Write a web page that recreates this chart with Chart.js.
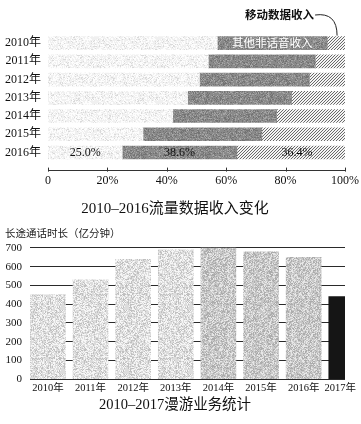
<!DOCTYPE html>
<html><head><meta charset="utf-8">
<script src="https://cdn.jsdelivr.net/npm/chart.js@4/dist/chart.umd.min.js"></script>
<style>
html,body{margin:0;padding:0;background:#fff;width:361px;height:424px;overflow:hidden}
.box{position:absolute;left:0;width:361px}
</style></head><body>
<div class="box" style="top:0;height:218px"><canvas id="c1" width="361" height="218"></canvas></div>
<div class="box" style="top:218px;height:206px"><canvas id="c2" width="361" height="206"></canvas></div>
<script>
// ---- Chart 1: 2010–2016 流量数据收入变化 (percent shares) ----
const years1 = ['2010年','2011年','2012年','2013年','2014年','2015年','2016年'];
const otherShare      = [57, 54, 51, 47, 42, 32, 25.0];
const nonVoiceShare   = [37, 36, 37, 35, 35, 40, 38.6];
const mobileDataShare = [6, 10, 12, 18, 23, 28, 36.4];
const pctTicks = [0, 20, 40, 60, 80, 100];

// ---- Chart 2: 2010–2017 漫游业务统计 (亿分钟) ----
const years2 = [2010, 2011, 2012, 2013, 2014, 2015, 2016, 2017];
const yearLabels2 = ['2010年','2011年','2012年','2013年','2014年','2015年','2016年','2017年'];
const roamMinutes = [450, 530, 640, 690, 700, 680, 650, 440];
const minuteTicks = [0, 100, 200, 300, 400, 500, 600, 700];

const SERIF = "'Liberation Serif','Noto Sans CJK SC',serif";
const SANS = "'Noto Sans CJK SC','Noto Sans',sans-serif";

function makeHatch(ctx){
  const c = document.createElement('canvas'); c.width = 3; c.height = 3;
  const g = c.getContext('2d');
  g.fillStyle = '#f4f4f4'; g.fillRect(0,0,3,3);
  g.strokeStyle = '#5a5a5a'; g.lineWidth = 0.9;
  g.beginPath();
  g.moveTo(0,3); g.lineTo(3,0);
  g.moveTo(-1,1); g.lineTo(1,-1);
  g.moveTo(2,4); g.lineTo(4,2);
  g.stroke();
  return ctx.createPattern(c, 'repeat');
}

// deterministic print-grain texture (hash based, no randomness)
function hash(x, y, s){
  let n = Math.imul(x, 374761393) + Math.imul(y, 668265263) + Math.imul(s, 1442695041);
  n = Math.imul(n ^ (n >>> 13), 1274126177);
  n ^= n >>> 16;
  return (n >>> 0) / 4294967296;
}
function makeGrain(ctx, base, darkC, lightC, pDark, pLight, seed){
  const N = 64;
  const c = document.createElement('canvas'); c.width = N; c.height = N;
  const g = c.getContext('2d');
  const img = g.createImageData(N, N);
  for (let y = 0; y < N; y++) for (let x = 0; x < N; x++) {
    const h = hash(x, y, seed);
    const col = h < pDark ? darkC : (h > 1 - pLight ? lightC : base);
    const i = (y * N + x) * 4;
    img.data[i] = col; img.data[i+1] = col; img.data[i+2] = col; img.data[i+3] = 255;
  }
  g.putImageData(img, 0, 0);
  return ctx.createPattern(c, 'repeat');
}

const ctx1 = document.getElementById('c1').getContext('2d');
const hatch = makeHatch(ctx1);
const lightGrain1 = makeGrain(ctx1, 240, 218, 253, 0.12, 0.35, 3);
const darkGrain1 = makeGrain(ctx1, 138, 115, 165, 0.22, 0.18, 7);

const annot1 = {
  id: 'annot1',
  afterDatasetsDraw(chart){
    const c = chart.ctx, xs = chart.scales.x, ca = chart.chartArea;
    const ay = ca.bottom + 8;
    c.save();
    c.strokeStyle = '#333'; c.lineWidth = 1;
    c.beginPath();
    c.moveTo(xs.getPixelForValue(0), Math.round(ay) + 0.5);
    c.lineTo(xs.getPixelForValue(100), Math.round(ay) + 0.5);
    pctTicks.forEach(v => {
      const px = Math.round(xs.getPixelForValue(v)) + 0.5;
      c.moveTo(px, ay - 2); c.lineTo(px, ay + 2);
    });
    c.stroke();
    const m1 = chart.getDatasetMeta(1).data[0];
    c.fillStyle = '#fff';
    c.font = '11.5px ' + SERIF;
    c.textAlign = 'center'; c.textBaseline = 'middle';
    c.fillText('其他非话音收入', (m1.x + m1.base) / 2, m1.y + 0.5);
    c.fillStyle = '#111';
    c.font = '12px ' + SERIF;
    const shares = [otherShare, nonVoiceShare, mobileDataShare];
    shares.forEach((arr, i) => {
      const el = chart.getDatasetMeta(i).data[6];
      c.fillText(arr[6].toFixed(1) + '%', (el.x + el.base) / 2 + (i === 2 ? 6 : 0), el.y + 0.5);
    });
    const m2 = chart.getDatasetMeta(2).data[0];
    const cx = (m2.x + m2.base) / 2, top = m2.y - 6.5;
    c.font = 'bold 11.5px ' + SANS;
    c.textAlign = 'right';
    c.fillStyle = '#111';
    c.fillText('移动数据收入', cx - 22, 15);
    c.beginPath();
    c.lineWidth = 1; c.strokeStyle = '#222';
    c.moveTo(cx - 21, 15);
    c.quadraticCurveTo(cx + 1, 12, cx + 1, top - 1);
    c.stroke();
    c.restore();
  }
};

new Chart(ctx1, {
  type: 'bar',
  data: {
    labels: years1,
    datasets: [
      { label: '其他收入', data: otherShare, backgroundColor: lightGrain1, barThickness: 13 },
      { label: '其他非话音收入', data: nonVoiceShare, backgroundColor: darkGrain1, barThickness: 13 },
      { label: '移动数据收入', data: mobileDataShare, backgroundColor: hatch, barThickness: 13 }
    ]
  },
  options: {
    indexAxis: 'y', responsive: false, animation: false,
    layout: { padding: { left: 5, right: 16, top: 34, bottom: 0 } },
    plugins: {
      legend: { display: false }, tooltip: { enabled: false },
      title: { display: true, position: 'bottom', text: '2010–2016流量数据收入变化', color: '#111',
               font: { family: SERIF, size: 15, weight: 'normal' }, padding: { top: 0, bottom: 0 } }
    },
    scales: {
      x: { stacked: true, min: 0, max: 100,
           afterBuildTicks: s => { s.ticks = pctTicks.map(v => ({ value: v })); },
           afterFit: s => { s.paddingRight = 12; },
           ticks: { callback: v => v === 0 ? '0' : v + '%', font: { family: SERIF, size: 12 }, color: '#111',
                    padding: 12, maxRotation: 0, autoSkip: false },
           grid: { display: false, drawTicks: false }, border: { display: false } },
      y: { stacked: true, afterFit: s => { s.width = 43; },
           ticks: { font: { family: SERIF, size: 12 }, color: '#111', padding: 7, autoSkip: false },
           grid: { display: false, drawTicks: false }, border: { display: false } }
    }
  },
  plugins: [annot1]
});

const labels2 = {
  id: 'labels2',
  afterDraw(chart){
    const c = chart.ctx, xs = chart.scales.x, ca = chart.chartArea;
    c.save();
    c.font = '10.5px ' + SERIF; c.fillStyle = '#111';
    c.textAlign = 'center'; c.textBaseline = 'middle';
    years2.forEach((yr, i) => {
      const w = c.measureText(yearLabels2[i]).width;
      let px = xs.getPixelForValue(yr);
      px = Math.min(px, chart.width - 5 - w / 2);
      c.fillText(yearLabels2[i], px, ca.bottom + 9);
    });
    c.restore();
  }
};

const ctx2 = document.getElementById('c2').getContext('2d');
const grainA = makeGrain(ctx2, 220, 192, 246, 0.22, 0.32, 11);
const grainB = makeGrain(ctx2, 200, 172, 230, 0.26, 0.26, 13);
const barColors2 = [grainA, grainA, grainA, grainA, grainB, grainB, grainB, '#151515'];

new Chart(ctx2, {
  type: 'bar',
  data: {
    datasets: [{
      label: '长途通话时长',
      data: years2.map((y, i) => ({ x: y, y: roamMinutes[i] })),
      backgroundColor: barColors2, barThickness: 35, clip: 0
    }]
  },
  options: {
    responsive: false, animation: false,
    layout: { padding: { left: 5, right: 16, top: 0, bottom: 0 } },
    plugins: {
      legend: { display: false }, tooltip: { enabled: false },
      title: { display: true, position: 'top', align: 'start', text: '长途通话时长（亿分钟）', color: '#222',
               font: { family: SANS, size: 10.5, weight: 'normal' }, padding: { top: 8.7, bottom: 1.2 } },
      subtitle: { display: true, position: 'bottom', text: '2010–2017漫游业务统计', color: '#111',
               font: { family: SERIF, size: 14.5, weight: 'normal' }, padding: { top: 17, bottom: 10.5 } }
    },
    scales: {
      x: { type: 'linear', display: false, offset: false, min: 2009.58, max: 2016.97 },
      y: { min: 0, max: 740, bounds: 'data', afterFit: s => { s.width = 25; },
           afterBuildTicks: s => { s.ticks = minuteTicks.map(v => ({ value: v })); },
           ticks: { font: { family: SERIF, size: 11 }, color: '#111', padding: 8 },
           grid: { color: '#2a2a2a', lineWidth: 1, drawTicks: false }, border: { display: false } }
    }
  },
  plugins: [labels2]
});
</script>
</body></html>
